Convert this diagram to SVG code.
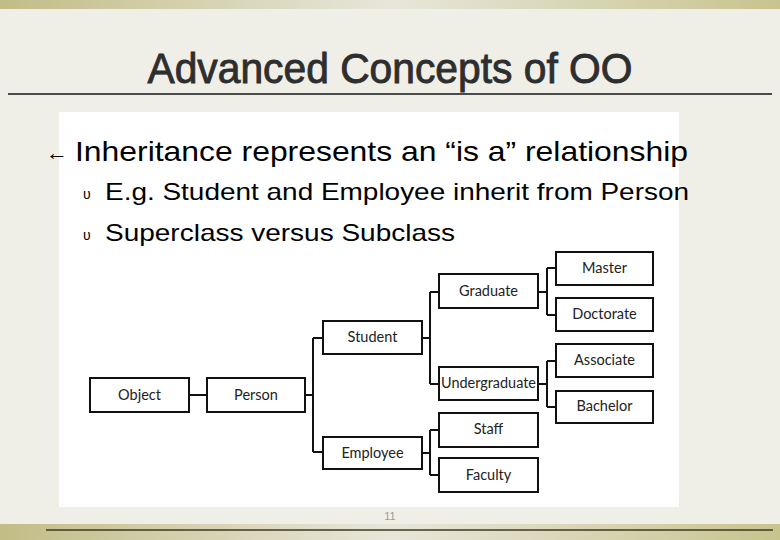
<svg xmlns="http://www.w3.org/2000/svg" width="780" height="540" viewBox="0 0 780 540">
<defs>
<linearGradient id="band" x1="0" y1="0" x2="1" y2="0">
<stop offset="0" stop-color="#c2bd86"/>
<stop offset="0.5" stop-color="#e8e6da"/>
<stop offset="1" stop-color="#c8c48e"/>
</linearGradient>
<style>
.box{fill:#fff;stroke:#111;stroke-width:2}
.lbl{font-family:Lato,"Liberation Sans",sans-serif;font-size:14.5px;fill:#222;text-anchor:middle}
.con{fill:none;stroke:#111;stroke-width:2}
.bul{font-family:"Liberation Sans",Arial,sans-serif;fill:#000}
</style>
</defs>
<rect x="0" y="0" width="780" height="540" fill="#f0efe7"/>
<rect x="0" y="0" width="780" height="9" fill="url(#band)"/>
<rect x="0" y="524" width="780" height="16" fill="url(#band)"/>
<line x1="46" y1="530" x2="773" y2="530" stroke="#3a3a22" stroke-width="1.5"/>
<text x="390" y="83" text-anchor="middle" font-family="Liberation Sans,Arial,sans-serif" font-size="42" fill="#2e2e2e" stroke="#2e2e2e" stroke-width="0.9" textLength="485" lengthAdjust="spacingAndGlyphs">Advanced Concepts of OO</text>
<line x1="8" y1="94" x2="772" y2="94" stroke="#4a4a4a" stroke-width="2"/>
<rect x="59" y="112" width="620" height="395" fill="#fff"/>
<text x="46" y="160" class="bul" font-size="22" fill="#333">←</text>
<text x="75" y="161" class="bul" font-size="28" textLength="613" lengthAdjust="spacingAndGlyphs">Inheritance represents an “is a” relationship</text>
<text x="83" y="199" class="bul" font-size="14">υ</text>
<text x="105" y="200" class="bul" font-size="24" textLength="584" lengthAdjust="spacingAndGlyphs">E.g. Student and Employee inherit from Person</text>
<text x="83" y="240" class="bul" font-size="14">υ</text>
<text x="105" y="241" class="bul" font-size="24" textLength="350" lengthAdjust="spacingAndGlyphs">Superclass versus Subclass</text>
<g id="connectors">
<path class="con" d="M189 395 H207"/>
<path class="con" d="M305 395 H313 M313 338 V452 M313 338 H323 M313 452 H323"/>
<path class="con" d="M422 338 H430 M430 292 V384 M430 292 H439 M430 384 H439"/>
<path class="con" d="M422 453 H430 M430 430 V475 M430 430 H439 M430 475 H439"/>
<path class="con" d="M538 292 H547 M547 268 V315 M547 268 H556 M547 315 H556"/>
<path class="con" d="M538 384 H547 M547 361 V407 M547 361 H556 M547 407 H556"/>
</g>
<g id="object"><rect class="box" x="90" y="378" width="99" height="34"/><text class="lbl" x="139.5" y="400">Object</text></g>
<g id="person"><rect class="box" x="207" y="378" width="98" height="34"/><text class="lbl" x="256" y="400">Person</text></g>
<g id="student"><rect class="box" x="323" y="321" width="99" height="33"/><text class="lbl" x="372.5" y="342">Student</text></g>
<g id="employee"><rect class="box" x="323" y="437" width="99" height="32"/><text class="lbl" x="372.5" y="458">Employee</text></g>
<g id="graduate"><rect class="box" x="439" y="274" width="99" height="34"/><text class="lbl" x="488.5" y="296">Graduate</text></g>
<g id="undergraduate"><rect class="box" x="439" y="367" width="99" height="33"/><text class="lbl" x="488.5" y="388" textLength="95" lengthAdjust="spacingAndGlyphs">Undergraduate</text></g>
<g id="staff"><rect class="box" x="439" y="413" width="99" height="34"/><text class="lbl" x="488.5" y="434">Staff</text></g>
<g id="faculty"><rect class="box" x="439" y="458" width="99" height="34"/><text class="lbl" x="488.5" y="480">Faculty</text></g>
<g id="master"><rect class="box" x="556" y="252" width="97" height="33"/><text class="lbl" x="604.5" y="273">Master</text></g>
<g id="doctorate"><rect class="box" x="556" y="298" width="97" height="33"/><text class="lbl" x="604.5" y="319">Doctorate</text></g>
<g id="associate"><rect class="box" x="556" y="344" width="97" height="33"/><text class="lbl" x="604.5" y="365">Associate</text></g>
<g id="bachelor"><rect class="box" x="556" y="391" width="97" height="32"/><text class="lbl" x="604.5" y="411">Bachelor</text></g>
<text x="390" y="520" text-anchor="middle" font-family="Liberation Sans,Arial,sans-serif" font-size="11" fill="#999">11</text>
</svg>
